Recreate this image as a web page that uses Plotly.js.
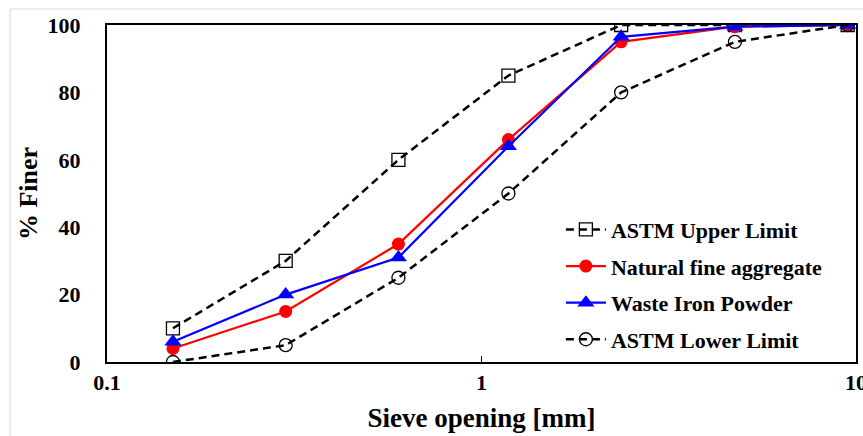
<!DOCTYPE html>
<html>
<head>
<meta charset="utf-8">
<script src="https://cdn.plot.ly/plotly-3.0.1.min.js"></script>
<style>html,body{margin:0;padding:0;background:#fff;}#chart{width:863px;height:436px;}</style>
</head>
<body>
<div id="chart"></div>
<script>
const sieve = [0.15, 0.3, 0.6, 1.18, 2.36, 4.75, 9.5];
const astmUpper = [10, 30, 60, 85, 100, 100, 100];
const naturalFine = [4, 15, 35, 66, 95, 99.5, 100];
const wasteIron = [6, 20, 31, 64, 96.5, 99.5, 100];
const astmLower = [0, 5, 25, 50, 80, 95, 100];
const xTickVals = [0.1, 1, 10];
const xTickText = ['0.1', '1', '10'];
const yTickVals = [0, 20, 40, 60, 80, 100];

const fontFam = '"Liberation Serif", "Times New Roman", serif';

const traces = [
  {x: sieve, y: astmUpper, name: '<b>ASTM Upper Limit</b>', mode: 'lines+markers', legendgroup: 'a',
   line: {color: '#000', width: 2.5, dash: '8px,5px'},
   marker: {symbol: 'square-open', size: 13, color: '#000', line: {width: 1.3}}},
  {x: sieve, y: naturalFine, name: '<b>Natural fine aggregate</b>', mode: 'lines+markers', legendgroup: 'b',
   line: {color: '#ff0000', width: 2.2},
   marker: {symbol: 'circle', size: 13, color: '#ff0000'}},
  {x: sieve, y: wasteIron, name: '<b>Waste Iron Powder</b>', mode: 'lines+markers', legendgroup: 'c',
   line: {color: '#0000ff', width: 2.2},
   marker: {symbol: 'triangle-up', size: 15, color: '#0000ff'}},
  {x: sieve, y: astmLower, name: '<b>ASTM Lower Limit</b>', mode: 'lines+markers', legendgroup: 'd',
   line: {color: '#000', width: 2.5, dash: '8px,5px'},
   marker: {symbol: 'circle-open', size: 13, color: '#000', line: {width: 1.3}}}
];

const layout = {
  width: 863, height: 436,
  margin: {l: 107, r: 7, t: 25, b: 74},
  paper_bgcolor: '#fff', plot_bgcolor: '#fff',
  showlegend: true,
  legend: {x: 0.606, y: 0.455, xanchor: 'left', yanchor: 'top', bgcolor: 'rgba(0,0,0,0)',
           traceorder: 'grouped', tracegroupgap: 5,
           font: {family: fontFam, size: 22, color: '#000'}, itemwidth: 40},
  xaxis: {type: 'log', range: [-1, 1], tickvals: xTickVals, ticktext: xTickText,
          showgrid: false, zeroline: false, showline: true, linecolor: '#000', linewidth: 2, mirror: true,
          ticks: 'inside', ticklen: 6, tickwidth: 1.5, tickcolor: '#000', ticklabeloverflow: 'allow',
          tickfont: {family: fontFam, size: 22, color: '#000', weight: 'bold'},
          title: {text: '<b>Sieve opening [mm]</b>', font: {family: fontFam, size: 27, color: '#000'}, standoff: 14}},
  yaxis: {range: [0, 100], tickvals: yTickVals, showgrid: false, zeroline: false,
          showline: true, linecolor: '#000', linewidth: 2, mirror: true, ticks: '',
          ticklabelstandoff: 20,
          tickfont: {family: fontFam, size: 22, color: '#000', weight: 'bold'},
          title: {text: '<b>% Finer</b>', font: {family: fontFam, size: 26, color: '#000'}, standoff: 2}},
  shapes: [{type: 'rect', xref: 'paper', yref: 'paper',
            x0: (10 - 107) / 749, x1: 1.1, y0: -0.5, y1: 1 + 16 / 337,
            line: {color: '#d9d9d9', width: 1}, fillcolor: 'rgba(0,0,0,0)', layer: 'below'}]
};

Plotly.newPlot('chart', traces, layout, {displayModeBar: false, staticPlot: true});
</script>
</body>
</html>
